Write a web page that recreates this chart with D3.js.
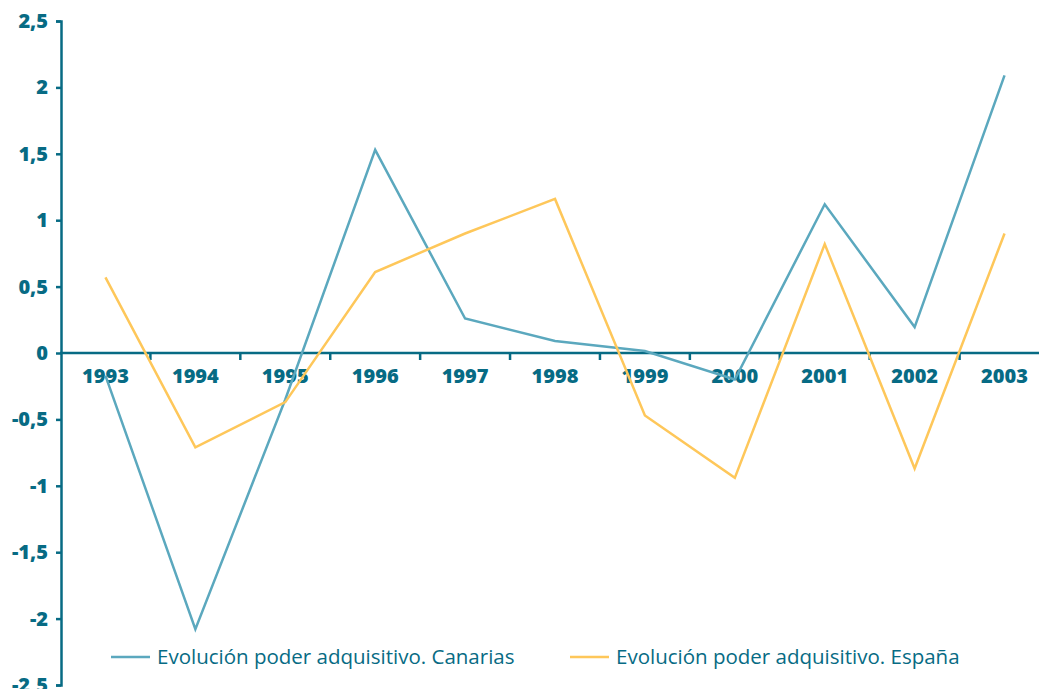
<!DOCTYPE html>
<html>
<head>
<meta charset="utf-8">
<script src="https://cdn.jsdelivr.net/npm/d3@7"></script>
<style>
  body { margin: 0; background: #fff; }
  svg { display: block; font-family: "Open Sans", "Noto Sans", sans-serif; }
</style>
</head>
<body>
<svg class="graph" width="1039" height="689"></svg>
<script>
var years = ['1993', '1994', '1995', '1996', '1997', '1998', '1999', '2000', '2001', '2002', '2003']
var canarias = [-0.17, -2.08, -0.35, 1.53, 0.26, 0.09, 0.015, -0.2, 1.12, 0.195, 2.09]
var espana = [0.57, -0.71, -0.37, 0.61, 0.9, 1.16, -0.47, -0.94, 0.82, -0.87, 0.9]
var yTicks = [2.5, 2, 1.5, 1, 0.5, 0, -0.5, -1, -1.5, -2, -2.5]
var seriesNames = ['Evolución poder adquisitivo. Canarias', 'Evolución poder adquisitivo. España']

var teal = '#076b84'
var colors = ['#5ba8be', '#fec75a']

var svg = d3.select('.graph')

var x = d3.scaleBand().domain(years).range([60.5, 1049.5])
var y = d3.scaleLinear().domain([-2.5, 2.5]).range([685, 21])

var fmt = function (d) { return String(d).replace('.', ',') }

// y axis
var yAxis = svg.append('g')
  .attr('transform', 'translate(61,0)')
  .call(d3.axisLeft(y).tickValues(yTicks).tickSize(5).tickPadding(8).tickFormat(fmt))
yAxis.select('.domain').attr('stroke', teal).attr('stroke-width', 2.5)
yAxis.selectAll('.tick line').attr('stroke', teal).attr('stroke-width', 2.5)
yAxis.selectAll('.tick text')
  .attr('fill', teal)
  .attr('font-size', 20)
  .attr('font-weight', 800)
  .attr('font-family', '"Open Sans", sans-serif')

// x axis at zero
var xAxis = svg.append('g')
  .attr('transform', 'translate(0,' + y(0) + ')')
xAxis.append('line')
  .attr('x1', 60).attr('x2', 1039)
  .attr('stroke', teal).attr('stroke-width', 2.5)
xAxis.selectAll('.tk')
  .data(years.slice(1))
  .enter().append('line')
  .attr('x1', function (d) { return x(d) }).attr('x2', function (d) { return x(d) })
  .attr('y1', 0).attr('y2', 7)
  .attr('stroke', teal).attr('stroke-width', 2.5)
xAxis.selectAll('.lbl')
  .data(years)
  .enter().append('text')
  .attr('x', function (d) { return x(d) + x.bandwidth() / 2 })
  .attr('y', 30)
  .attr('text-anchor', 'middle')
  .attr('fill', teal)
  .attr('font-size', 20)
  .attr('font-weight', 800)
  .text(function (d) { return d })

// lines
var line = d3.line()
  .x(function (d, i) { return x(years[i]) + x.bandwidth() / 2 })
  .y(function (d) { return y(d) })

;[canarias, espana].forEach(function (s, k) {
  svg.append('path')
    .datum(s)
    .attr('d', line)
    .attr('fill', 'none')
    .attr('stroke', colors[k])
    .attr('stroke-width', 2.5)
    .attr('stroke-linejoin', 'miter')
})

// legend
var legend = svg.append('g').attr('transform', 'translate(0,657)')
var legendX = [111, 570]
seriesNames.forEach(function (name, k) {
  legend.append('line')
    .attr('x1', legendX[k]).attr('x2', legendX[k] + 39)
    .attr('stroke', colors[k]).attr('stroke-width', 2.5)
  legend.append('text')
    .attr('x', legendX[k] + 46)
    .attr('y', 7)
    .attr('fill', teal)
    .attr('font-size', 20.5)
    .text(name)
})
</script>
</body>
</html>
